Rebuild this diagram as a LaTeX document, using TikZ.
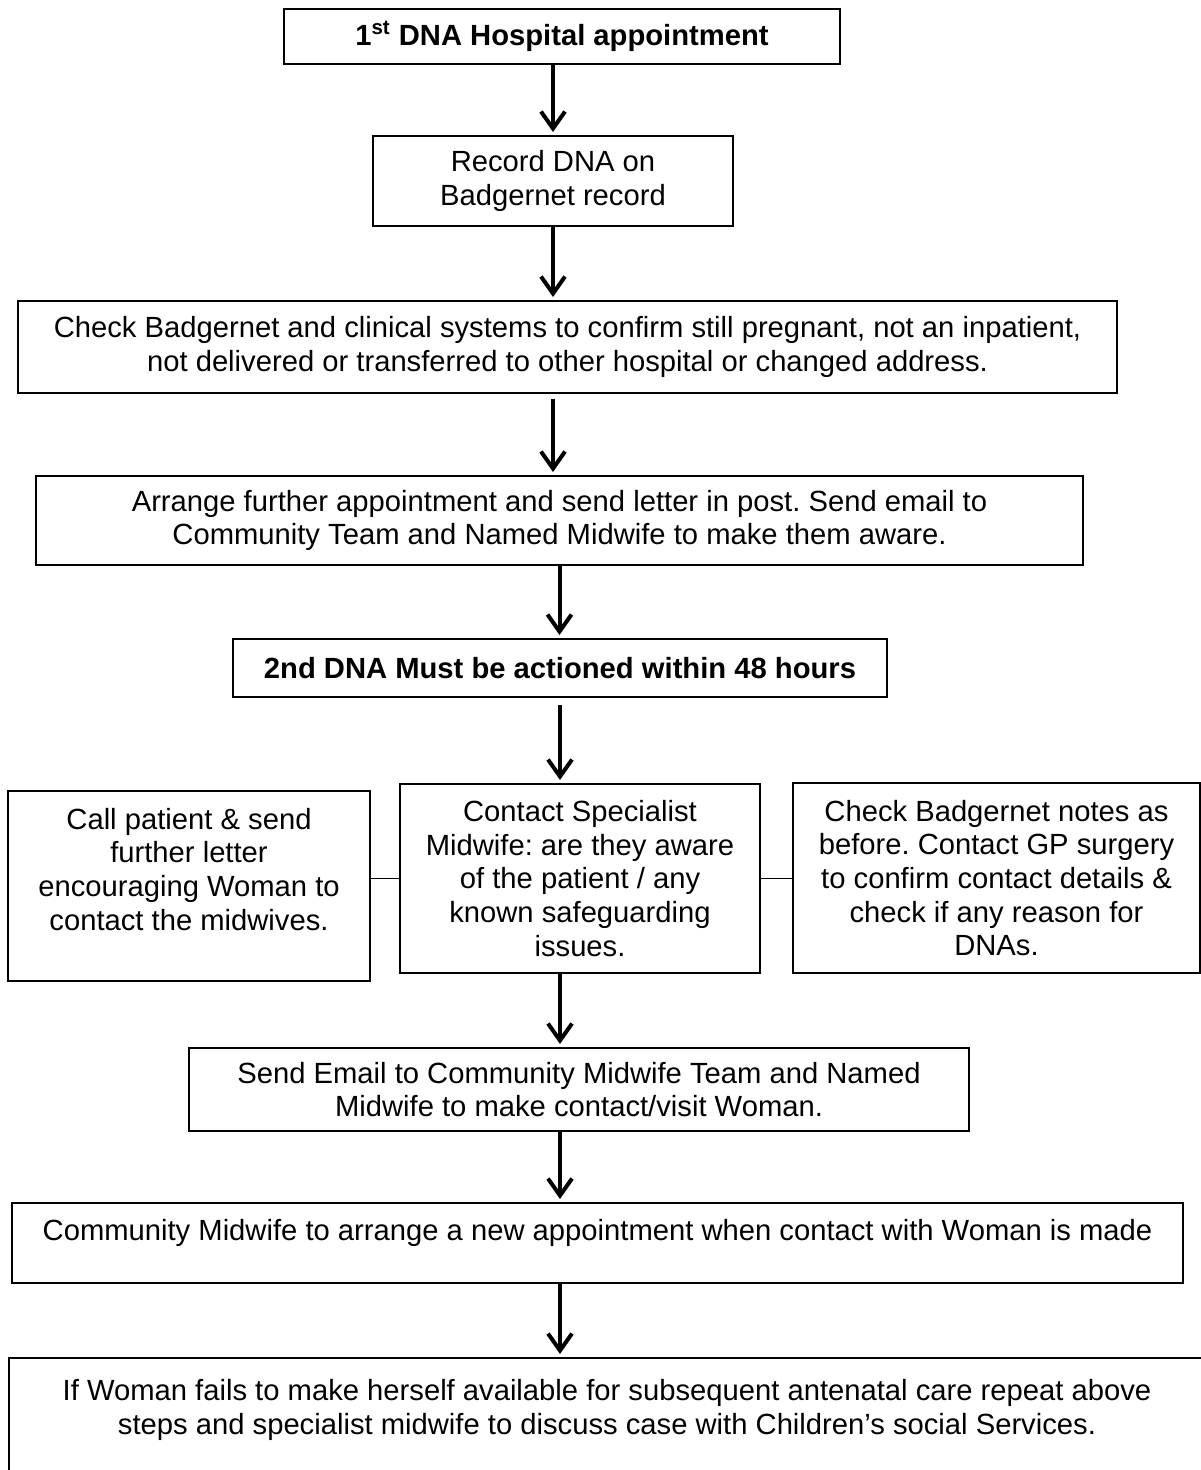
\documentclass[tikz,border=0pt]{standalone}
\usepackage{fontspec}
\setmainfont{Liberation Sans}
\usetikzlibrary{arrows.meta}
\frenchspacing

\tikzset{
    box/.style={draw, line width=1pt, align=center, inner sep=0pt, font=\fontsize{14.6}{16.8}\selectfont},
    boxsize/.style 2 args={minimum width=#1*0.5pt, minimum height=#2*0.5pt},
    arr/.style={line width=2pt, -{Straight Barb[length=8.5pt,width=12pt]}, shorten >=1.5pt},
    link/.style={line width=0.6pt}
}

\begin{document}
\begin{tikzpicture}[x=0.5pt, y=-0.5pt]
        \useasboundingbox (0,0) rectangle (1200,1470);

        \node (first) at (562, 36.5) [box, boxsize={556}{55}] {\textbf{1\textsuperscript{st} DNA Hospital appointment}};
        \node (rec) at (553, 181) [box, boxsize={360}{90}] {Record DNA on\\Badgernet record};
        \node (chk) at (567.5, 347) [box, boxsize={1099}{92}] {Check Badgernet and clinical systems to confirm still pregnant, not an inpatient,\\not delivered or transferred to other hospital or changed address.};
        \node (arr) at (559.5, 520.5) [box, boxsize={1047}{89}] {Arrange further appointment and send letter in post. Send email to\\Community Team and Named Midwife to make them aware.};
        \node (second) at (560, 668) [box, boxsize={654}{58}] {\textbf{2nd DNA Must be actioned within 48 hours}};

        \node (call) at (189, 886) [box, boxsize={362}{190}] {Call patient \& send\\further letter\\encouraging Woman to\\contact the midwives.\\\mbox{}};
        \node (spec) at (580, 878.5) [box, boxsize={360}{189}] {Contact Specialist\\Midwife: are they aware\\of the patient / any\\known safeguarding\\issues.};
        \node (gp) at (996.5, 878) [box, boxsize={407}{190}] {Check Badgernet notes as\\before. Contact GP surgery\\to confirm contact details \&\\check if any reason for\\DNAs.};

        \node (email) at (579, 1089.5) [box, boxsize={780}{83}] {Send Email to Community Midwife Team and Named\\Midwife to make contact/visit Woman.};
        \node (comm) at (597.5, 1243) [box, boxsize={1171}{80}] {Community Midwife to arrange a new appointment when contact with Woman is made\\[-4pt]\mbox{}};
        \node (fail) at (607, 1424) [box, boxsize={1196}{132}] {If Woman fails to make herself available for subsequent antenatal care repeat above\\steps and specialist midwife to discuss case with Children’s social Services.\\\mbox{}};

        \draw[arr] (first.south -| rec.north) -- (rec.north);
        \draw[arr] (rec.south) -- (chk.north -| rec.south);
        \draw[arr, shorten <=2.5pt] (chk.south -| rec.south) -- (arr.north -| rec.south);
        \draw[arr] (arr.south) -- (second.north -| arr.south);
        \draw[arr, shorten <=3.5pt] (second.south) -- (spec.north -| second.south);
        \draw[arr] (spec.south -| second.south) -- (email.north -| second.south);
        \draw[arr] (email.south -| second.south) -- (comm.north -| second.south);
        \draw[arr] (comm.south -| second.south) -- (fail.north -| second.south);

        \draw[link] (call.east |- spec) -- (spec.west);
        \draw[link] (spec.east) -- (gp.west |- spec);
\end{tikzpicture}
\end{document}
